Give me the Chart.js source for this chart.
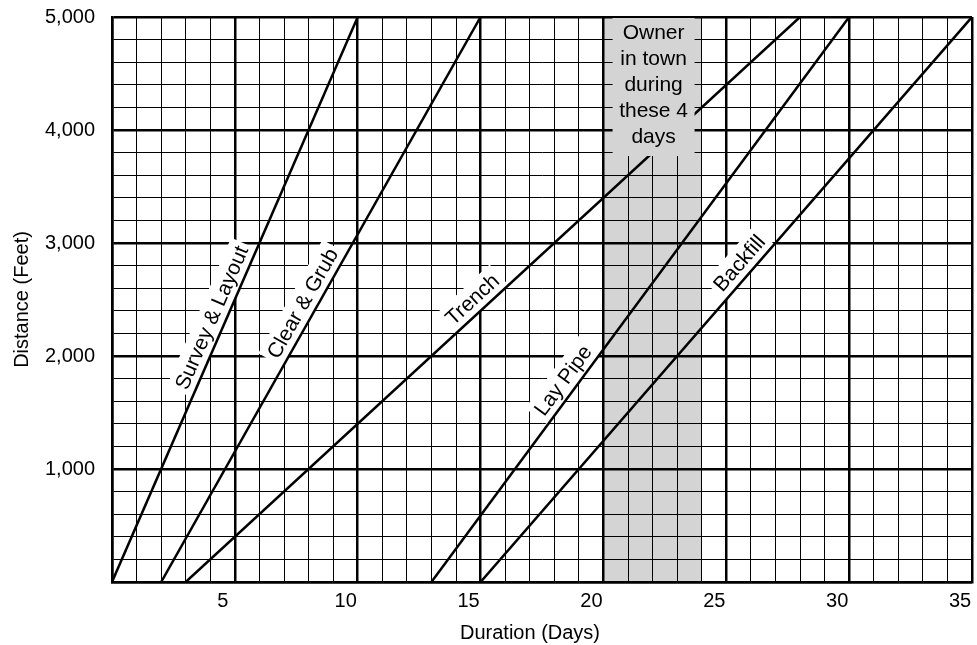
<!DOCTYPE html>
<html>
<head>
<meta charset="utf-8">
<script src="https://cdn.jsdelivr.net/npm/chart.js@4/dist/chart.umd.min.js"></script>
<style>
  html, body { margin: 0; padding: 0; background: #fff; }
  #wrap { width: 977px; height: 645px; position: relative; }
</style>
</head>
<body>
<div id="wrap"><canvas id="grafico"></canvas></div>
<script>
// datos del diagrama (actividad, dia de inicio, dia final)
const tasks = ['Survey & Layout', 'Clear & Grub', 'Trench', 'Lay Pipe', 'Backfill'];
const startDays = [0, 2, 3, 13, 15];
const finishDays = [10, 15, 28, 30, 35];
const distanceRange = [0, 5000];
// altura (pies) donde va la etiqueta de cada linea
const labelFeet = [2290, 2405, 2410, 1710, 2740];

const xTickLabels = ['5', '10', '15', '20', '25', '30', '35'];
const yTickLabels = ['1,000', '2,000', '3,000', '4,000', '5,000'];

const ownerDays = [20, 24];
const ownerNote = ['Owner', 'in town', 'during', 'these 4', 'days'];

const FONT = 'Liberation Sans, Arial, Helvetica, sans-serif';
const GRAY = '#d4d4d4';

const datasets = tasks.map((t, i) => ({
    label: t,
    data: [
        { x: startDays[i], y: distanceRange[0] },
        { x: finishDays[i], y: distanceRange[1] }
    ],
    showLine: true,
    borderColor: '#000',
    borderWidth: 2.5,
    pointRadius: 0,
    fill: false
}));

// franja gris detras de la cuadricula
const bandaPlugin = {
    id: 'banda',
    beforeDraw(chart) {
        const { ctx, chartArea, scales } = chart;
        const x0 = scales.x.getPixelForValue(ownerDays[0]);
        const x1 = scales.x.getPixelForValue(ownerDays[1]);
        ctx.save();
        ctx.fillStyle = GRAY;
        ctx.fillRect(x0, chartArea.top, x1 - x0, chartArea.bottom - chartArea.top);
        ctx.restore();
    },
    afterDraw(chart) {
        // titulo del eje x, un poco a la izquierda del centro
        const { ctx, chartArea } = chart;
        ctx.save();
        ctx.font = '20px ' + FONT;
        ctx.textAlign = 'center';
        ctx.textBaseline = 'middle';
        ctx.fillStyle = '#000';
        ctx.fillText('Duration (Days)', (chartArea.left + chartArea.right) / 2 - 12, 633);
        ctx.restore();
    }
};

// etiquetas giradas con fondo blanco junto a cada linea
const etiquetasPlugin = {
    id: 'etiquetas',
    beforeDatasetsDraw(chart) {
        const { ctx, scales } = chart;
        ctx.save();
        ctx.font = '21px ' + FONT;
        ctx.textAlign = 'center';
        ctx.textBaseline = 'middle';
        tasks.forEach((t, i) => {
            const px0 = scales.x.getPixelForValue(startDays[i]);
            const py0 = scales.y.getPixelForValue(distanceRange[0]);
            const px1 = scales.x.getPixelForValue(finishDays[i]);
            const py1 = scales.y.getPixelForValue(distanceRange[1]);
            const len = Math.hypot(px1 - px0, py1 - py0);
            const dx = (px1 - px0) / len, dy = (py1 - py0) / len;
            const ang = Math.atan2(py1 - py0, px1 - px0);
            const f = labelFeet[i] / distanceRange[1];
            const ax = scales.x.getPixelForValue(startDays[i] + (finishDays[i] - startDays[i]) * f);
            const ay = scales.y.getPixelForValue(labelFeet[i]);
            const off = 14;
            const cx = ax + dy * off, cy = ay - dx * off;
            const w = ctx.measureText(t).width;
            ctx.save();
            ctx.translate(cx, cy);
            ctx.rotate(ang);
            ctx.fillStyle = '#fff';
            ctx.fillRect(-w / 2 - 4, -off, w + 8, off * 2);
            ctx.fillStyle = '#000';
            ctx.fillText(t, 0, 1);
            ctx.restore();
        });
        ctx.restore();
    },
    afterDatasetsDraw(chart) {
        const { ctx, chartArea, scales } = chart;
        const cx = (scales.x.getPixelForValue(ownerDays[0]) + scales.x.getPixelForValue(ownerDays[1])) / 2;
        const lh = 26;
        ctx.save();
        ctx.fillStyle = GRAY;
        ctx.fillRect(cx - 40, chartArea.top + 1, 82, ownerNote.length * lh + 8);
        ctx.font = '21px ' + FONT;
        ctx.textAlign = 'center';
        ctx.textBaseline = 'middle';
        ctx.fillStyle = '#000';
        ownerNote.forEach((l, i) => {
            ctx.fillText(l, cx + 1, chartArea.top + 16 + i * lh);
        });
        ctx.restore();
    }
};

const sinMargen = s => { s.paddingTop = 0; s.paddingBottom = 0; s.paddingLeft = 0; s.paddingRight = 0; };

const ctx = document.getElementById('grafico').getContext('2d');
new Chart(ctx, {
    type: 'scatter',
    data: { datasets: datasets },
    options: {
        responsive: true,
        maintainAspectRatio: false,
        animation: false,
        layout: { padding: { top: 17, right: 5, left: 0, bottom: 0 } },
        plugins: {
            legend: { display: false },
            tooltip: { enabled: false }
        },
        scales: {
            x: {
                type: 'linear',
                min: 0,
                max: 35,
                afterFit: s => { s.height = 63; sinMargen(s); },
                border: { display: true, color: '#000', width: 2.5 },
                grid: {
                    color: '#000',
                    drawTicks: false,
                    lineWidth: c => (c.tick && c.tick.value % 5 === 0 ? 2.5 : 1)
                },
                ticks: {
                    stepSize: 1,
                    autoSkip: false,
                    maxRotation: 0,
                    padding: 7,
                    labelOffset: -12,
                    color: '#000',
                    font: { family: FONT, size: 20 },
                    callback: v => (v > 0 && v % 5 === 0 ? xTickLabels[v / 5 - 1] : '')
                },
                title: { display: false }
            },
            y: {
                type: 'linear',
                min: 0,
                max: 5000,
                afterFit: s => { s.width = 112; sinMargen(s); },
                border: { display: true, color: '#000', width: 2.5 },
                grid: {
                    color: '#000',
                    drawTicks: false,
                    lineWidth: c => (c.tick && c.tick.value % 1000 === 0 ? 2.5 : 1)
                },
                ticks: {
                    stepSize: 200,
                    autoSkip: false,
                    padding: 17,
                    color: '#000',
                    font: { family: FONT, size: 20 },
                    callback: v => (v > 0 && v % 1000 === 0 ? yTickLabels[v / 1000 - 1] : '')
                },
                title: {
                    display: true,
                    text: 'Distance (Feet)',
                    color: '#000',
                    font: { family: FONT, size: 20 },
                    padding: { top: 10, bottom: 0 }
                }
            }
        }
    },
    plugins: [bandaPlugin, etiquetasPlugin]
});
</script>
</body>
</html>
